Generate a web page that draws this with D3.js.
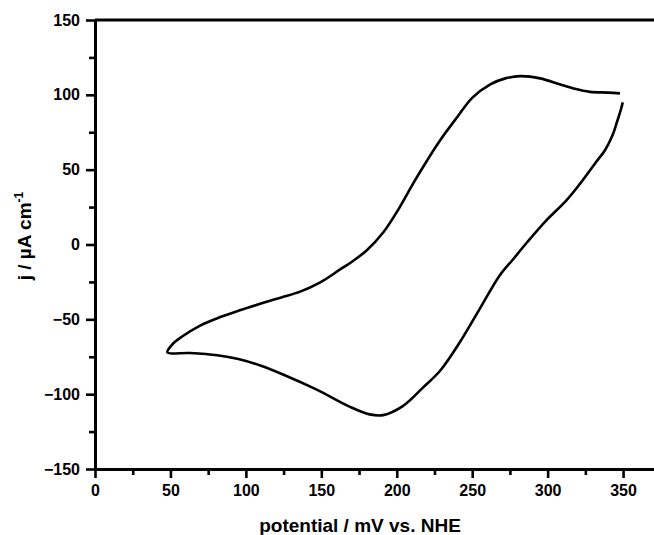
<!DOCTYPE html>
<html>
<head>
<meta charset="utf-8">
<script src="https://cdn.jsdelivr.net/npm/d3@7"></script>
<style>
  html, body { margin: 0; padding: 0; background: #fff; }
  text { font-family: "Liberation Sans", Arial, sans-serif; font-weight: bold; fill: #000; }
</style>
</head>
<body>
<div id="chart"></div>
<script>
const width = 654;
const height = 535;
const margin = { top: 20, right: 0, bottom: 66, left: 95 };

// cyclic voltammogram (mV vs NHE, uA/cm2)
const potential = [
    348, 340, 328, 318, 308, 295, 282, 272, 262, 250,
    240, 229, 220, 211, 202, 191, 180, 171, 162, 149,
    136, 123, 110, 96, 83, 70, 57, 51, 48,
    63, 81, 95, 110, 125, 147, 169, 182, 191, 204,
    217, 229, 242, 255, 268, 277, 286, 299, 312, 321,
    332, 338, 343, 346, 348.5, 349.8
];
const current = [
    101, 101.5, 102, 104, 107, 111, 112.5, 111, 107, 98,
    85, 70, 56, 41, 25, 8, -4, -11, -17, -25.5,
    -31.5, -35.5, -39.5, -44, -48.5, -54, -62, -67, -72,
    -72.5, -74, -76.5, -81, -87, -97, -108.5, -113.5, -114, -108,
    -96, -84, -65, -43, -21, -10, 1, 16, 29, 40,
    55, 63, 73, 82, 90, 95
];

const xTicks = [0, 50, 100, 150, 200, 250, 300, 350];
const xMinor = [25, 75, 125, 175, 225, 275, 325];
const yTicks = [-150, -100, -50, 0, 50, 100, 150];
const yMinor = [-125, -75, -25, 25, 75, 125];

const svg = d3.select("#chart")
    .append("svg")
        .attr("width", width)
        .attr("height", height);

const x = d3.scaleLinear()
    .domain([0, 370.5])
    .range([margin.left, width - margin.right]);

const y = d3.scaleLinear()
    .domain([-150, 150])
    .range([height - margin.bottom, margin.top]);

const data = potential.map((p, i) => [p, current[i]]);

const line = d3.line()
    .x(d => x(d[0]))
    .y(d => y(d[1]))
    .curve(d3.curveCatmullRom.alpha(0.5));

svg.append("path")
    .datum(data)
    .attr("fill", "none")
    .attr("stroke", "#000")
    .attr("stroke-width", 2.6)
    .attr("stroke-linejoin", "round")
    .attr("d", line);

// top frame line
svg.append("line")
    .attr("x1", x(0)).attr("x2", width)
    .attr("y1", y(150)).attr("y2", y(150))
    .attr("stroke", "#000")
    .attr("stroke-width", 3);

// minor ticks
svg.append("g")
    .attr("transform", `translate(0,${y(-150)})`)
    .call(d3.axisBottom(x).tickValues(xMinor).tickSize(6).tickFormat(""))
    .call(g => g.select(".domain").remove());

svg.append("g")
    .attr("transform", `translate(${x(0)},0)`)
    .call(d3.axisLeft(y).tickValues(yMinor).tickSize(6).tickFormat(""))
    .call(g => g.select(".domain").remove());

// major axes
svg.append("g")
    .attr("transform", `translate(0,${y(-150)})`)
    .call(d3.axisBottom(x).tickValues(xTicks).tickSize(9).tickSizeOuter(0).tickPadding(7));

svg.append("g")
    .attr("transform", `translate(${x(0)},0)`)
    .call(d3.axisLeft(y).tickValues(yTicks).tickSize(9).tickSizeOuter(0).tickPadding(6));

svg.selectAll(".tick line").attr("stroke-width", 2.6);
svg.selectAll(".domain").attr("stroke-width", 3);
svg.selectAll(".tick text")
    .style("font-size", "16px")
    .style("font-family", "'Liberation Sans', Arial, sans-serif")
    .style("font-weight", "bold");

// axis titles
svg.append("text")
    .attr("x", 360)
    .attr("y", 532)
    .attr("text-anchor", "middle")
    .style("font-size", "19px")
    .text("potential / mV vs. NHE");

const yt = svg.append("text")
    .attr("transform", "translate(31,236) rotate(-90)")
    .attr("text-anchor", "middle")
    .style("font-size", "19px");
yt.append("tspan").text("j / µA cm");
yt.append("tspan")
    .attr("dy", -8)
    .style("font-size", "12px")
    .text("-1");
</script>
</body>
</html>
